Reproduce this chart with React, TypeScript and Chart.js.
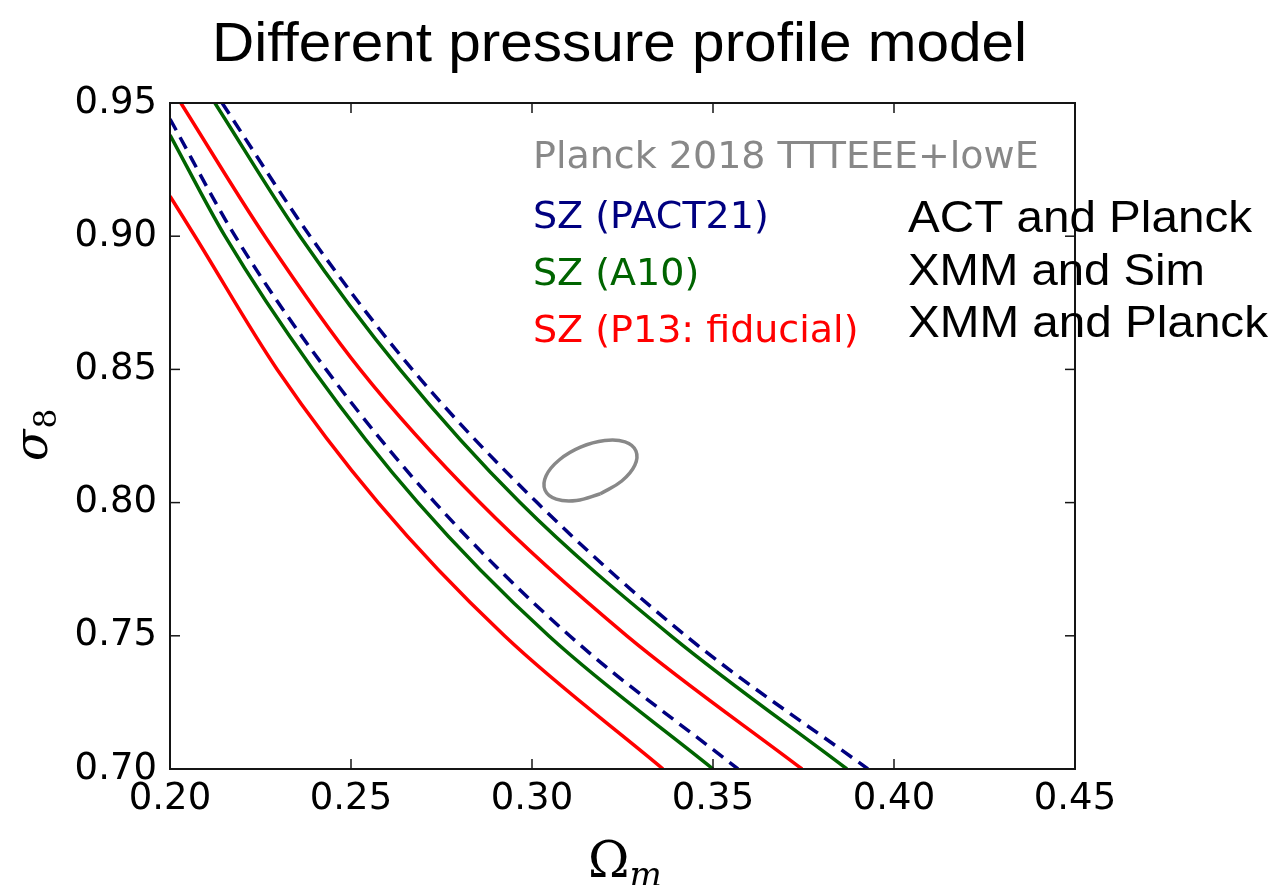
import React, { useEffect, useRef } from 'react';
import { Chart, registerables } from 'chart.js';

Chart.register(...registerables);

// ---- data ----
const titleText = 'Different pressure profile model';
const xTickValues = [0.2, 0.25, 0.3, 0.35, 0.4, 0.45];
const yTickValues = [0.7, 0.75, 0.8, 0.85, 0.9, 0.95];

// SZ (P13: fiducial) - red, two contours
const p13InnerX = [0.2, 0.2069, 0.2296, 0.2575, 0.2924, 0.3362];
const p13InnerY = [0.915, 0.9, 0.85, 0.8, 0.75, 0.7];
const p13OuterX = [0.203, 0.2262, 0.2525, 0.2856, 0.3262, 0.3746];
const p13OuterY = [0.95, 0.9, 0.85, 0.8, 0.75, 0.7];

// SZ (A10) - green
const a10InnerX = [0.2, 0.2152, 0.2395, 0.2685, 0.3046, 0.35];
const a10InnerY = [0.938, 0.9, 0.85, 0.8, 0.75, 0.7];
const a10OuterX = [0.2124, 0.2359, 0.2635, 0.2967, 0.3384, 0.387];
const a10OuterY = [0.95, 0.9, 0.85, 0.8, 0.75, 0.7];

// SZ (PACT21) - navy dashed
const pactInnerX = [0.2, 0.218, 0.2431, 0.2732, 0.3104, 0.3569];
const pactInnerY = [0.944, 0.9, 0.85, 0.8, 0.75, 0.7];
const pactOuterX = [0.2144, 0.2387, 0.2669, 0.3014, 0.3425, 0.3928];
const pactOuterY = [0.95, 0.9, 0.85, 0.8, 0.75, 0.7];

// Planck 2018 TTTEEE+lowE contour - gray closed loop (traced around the outline)
const planckX = [0.3189, 0.3248, 0.3284, 0.3287, 0.3257, 0.3201, 0.3134, 0.3075, 0.3039, 0.3036, 0.3067, 0.3123, 0.3189];
const planckY = [0.8033, 0.8081, 0.814, 0.8194, 0.8228, 0.8233, 0.8208, 0.816, 0.8101, 0.8047, 0.8013, 0.8008, 0.8033];

const legendLabels = ['Planck 2018 TTTEEE+lowE', 'SZ (PACT21)', 'SZ (A10)', 'SZ (P13: fiducial)'];
const legendColors = ['#888888', '#000080', '#006400', '#ff0000'];
const sideLabels = ['ACT and Planck', 'XMM and Sim', 'XMM and Planck'];

const zip = (xs: number[], ys: number[]) => xs.map((x, i) => ({ x, y: ys[i] }));

const RED = '#ff0000';
const GREEN = '#006400';
const NAVY = '#000080';
const GRAY = '#888888';

function fitText(ctx: CanvasRenderingContext2D, text: string, x: number, baseline: number, targetW: number, font: string, color: string) {
  ctx.save();
  ctx.font = font;
  const w = ctx.measureText(text).width;
  const sx = targetW / w;
  ctx.translate(x, baseline);
  ctx.scale(sx, 1);
  ctx.fillStyle = color;
  ctx.textAlign = 'left';
  ctx.textBaseline = 'alphabetic';
  ctx.fillText(text, 0, 0);
  ctx.restore();
}

const overlay = {
  id: 'overlay',
  afterDraw(chart: any) {
    const { ctx, chartArea: a, scales } = chart;
    ctx.save();
    // frame
    ctx.strokeStyle = '#151515';
    ctx.lineWidth = 2;
    ctx.strokeRect(a.left, a.top, a.right - a.left, a.bottom - a.top);
    // inward ticks on all sides
    const tl = 10;
    ctx.lineWidth = 1.5;
    const seg = (x1: number, y1: number, x2: number, y2: number) => {
      ctx.beginPath();
      ctx.moveTo(x1, y1);
      ctx.lineTo(x2, y2);
      ctx.stroke();
    };
    scales.x.ticks.forEach((t: any) => {
      const px = scales.x.getPixelForValue(t.value);
      seg(px, a.bottom, px, a.bottom - tl);
      seg(px, a.top, px, a.top + tl);
    });
    scales.y.ticks.forEach((t: any) => {
      const py = scales.y.getPixelForValue(t.value);
      seg(a.left, py, a.left + tl, py);
      seg(a.right, py, a.right - tl, py);
    });

    // title
    fitText(ctx, titleText, 212, 61, 815, '56px "Liberation Sans", Arial, sans-serif', '#000');

    // legend texts
    const lgBase = [168, 228, 285, 342];
    legendLabels.forEach((s, i) => {
      ctx.font = '38px "DejaVu Sans", sans-serif';
      ctx.fillStyle = legendColors[i];
      ctx.textAlign = 'left';
      ctx.textBaseline = 'alphabetic';
      ctx.fillText(s, 533, lgBase[i]);
    });

    // side texts
    const sideBase = [232, 284.5, 337];
    const sideW = [344, 297, 360];
    sideLabels.forEach((s, i) => {
      fitText(ctx, s, 908, sideBase[i], sideW[i], '45px "Liberation Sans", Arial, sans-serif', '#000');
    });

    // y axis title: sigma_8 (rotated)
    ctx.save();
    ctx.translate(47, 461);
    ctx.rotate(-Math.PI / 2);
    ctx.fillStyle = '#000';
    ctx.textAlign = 'left';
    ctx.textBaseline = 'alphabetic';
    ctx.font = 'italic 46px "DejaVu Serif", serif';
    ctx.fillText('σ', 0, 0);
    const sw = ctx.measureText('σ').width;
    ctx.font = '31px "DejaVu Serif", serif';
    ctx.fillText('8', sw + 1, 9);
    ctx.restore();

    // x axis title: Omega_m
    ctx.save();
    ctx.fillStyle = '#000';
    ctx.textAlign = 'left';
    ctx.textBaseline = 'alphabetic';
    ctx.font = '50px "DejaVu Serif", serif';
    ctx.fillText('Ω', 588, 877);
    const ow = ctx.measureText('Ω').width;
    ctx.font = 'italic 34px "DejaVu Serif", serif';
    ctx.fillText('m', 588 + ow, 886);
    ctx.restore();

    ctx.restore();
  },
};

export default function App() {
  const ref = useRef<HTMLCanvasElement>(null);
  useEffect(() => {
    if (!ref.current) return;
    const line = (data: any[], color: string, dashed = false) => ({
      data,
      showLine: true,
      borderColor: color,
      backgroundColor: color,
      borderWidth: 3.5,
      borderDash: dashed ? [13, 8] : [],
      pointRadius: 0,
      pointHoverRadius: 0,
      cubicInterpolationMode: 'monotone',
      fill: false,
    });
    const loop = (data: any[], color: string) => ({
      data,
      showLine: true,
      borderColor: color,
      backgroundColor: color,
      borderWidth: 3.5,
      pointRadius: 0,
      pointHoverRadius: 0,
      tension: 0.4,
      fill: false,
    });
    const chart = new Chart(ref.current, {
      type: 'scatter',
      data: {
        datasets: [
          loop(zip(planckX, planckY), GRAY),
          line(zip(pactInnerX, pactInnerY), NAVY, true),
          line(zip(pactOuterX, pactOuterY), NAVY, true),
          line(zip(a10InnerX, a10InnerY), GREEN),
          line(zip(a10OuterX, a10OuterY), GREEN),
          line(zip(p13InnerX, p13InnerY), RED),
          line(zip(p13OuterX, p13OuterY), RED),
        ],
      },
      options: {
        responsive: false,
        animation: false,
        events: [],
        layout: { padding: { left: 0, right: 205, top: 103, bottom: 0 } },
        plugins: { legend: { display: false }, tooltip: { enabled: false }, title: { display: false } },
        scales: {
          x: {
            type: 'linear',
            min: xTickValues[0],
            max: xTickValues[xTickValues.length - 1],
            grid: { display: false, drawTicks: false },
            border: { display: false },
            ticks: {
              stepSize: 0.05,
              autoSkip: false,
              maxRotation: 0,
              padding: 8,
              color: '#000',
              font: { family: 'DejaVu Sans', size: 37 },
              callback: (v: any) => Number(v).toFixed(2),
            },
            afterFit: (s: any) => { s.height = 116; },
          },
          y: {
            type: 'linear',
            min: yTickValues[0],
            max: yTickValues[yTickValues.length - 1],
            grid: { display: false, drawTicks: false },
            border: { display: false },
            ticks: {
              stepSize: 0.05,
              autoSkip: false,
              padding: 13,
              color: '#000',
              font: { family: 'DejaVu Sans', size: 37 },
              callback: (v: any) => Number(v).toFixed(2),
            },
            afterFit: (s: any) => { s.width = 170; },
          },
        },
      } as any,
      plugins: [overlay],
    });
    return () => chart.destroy();
  }, []);
  return (
    <div style={{ position: 'absolute', left: 0, top: 0, width: 1280, height: 885, background: '#fff' }}>
      <canvas ref={ref} width={1280} height={885} style={{ width: 1280, height: 885, display: 'block' }} />
    </div>
  );
}
